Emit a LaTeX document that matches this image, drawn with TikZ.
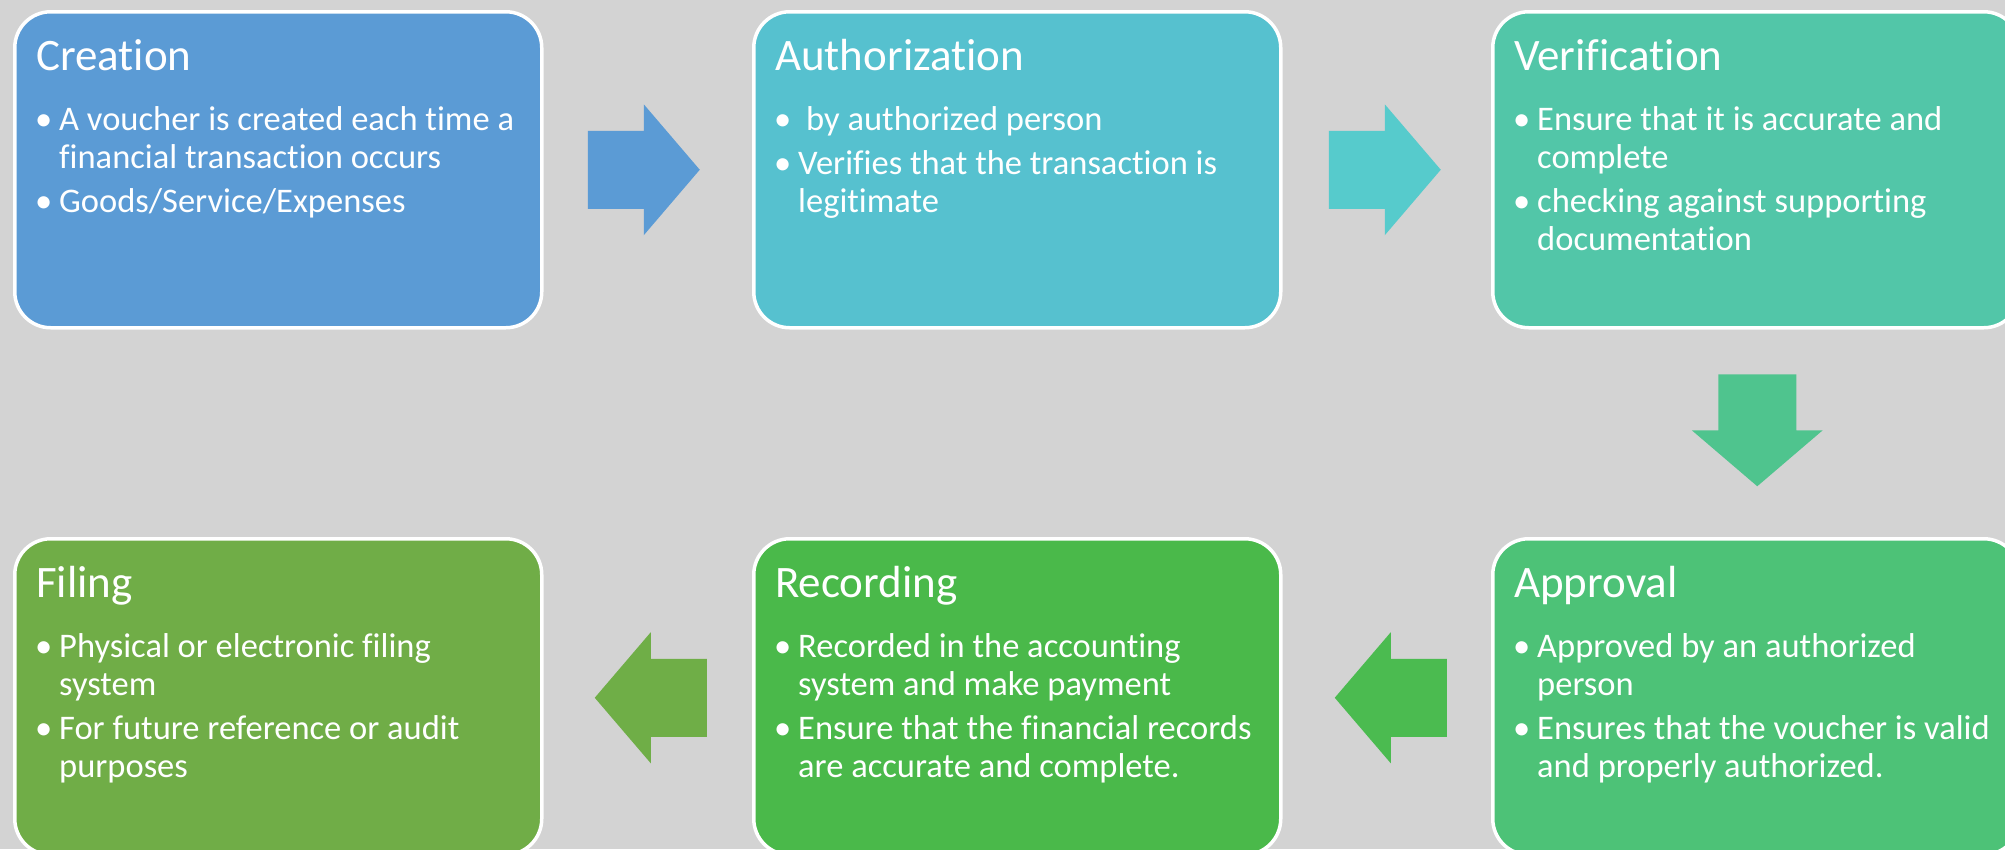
\documentclass[tikz,border=0pt]{standalone}
\usepackage{fontspec}
\setmainfont[Ligatures=NoCommon]{Carlito}
\usetikzlibrary{calc}
\definecolor{bgc}{HTML}{D3D3D3}
\definecolor{cA}{HTML}{5B9BD5}
\definecolor{cB}{HTML}{56C1CF}
\definecolor{cC}{HTML}{52C6A8}
\definecolor{cD}{HTML}{4DC277}
\definecolor{cE}{HTML}{4AB94A}
\definecolor{cF}{HTML}{70AD47}
\definecolor{aA}{HTML}{5B9BD5}
\definecolor{aB}{HTML}{56CBCC}
\definecolor{aC}{HTML}{4FC48E}
\definecolor{aD}{HTML}{4BBB50}
\definecolor{aE}{HTML}{6FAE47}
\newcommand\blockarrow[3]{%
  \begin{scope}[shift={(#1)}, rotate=#2]
    \fill[#3] (-56,-39) -- (0,-39) -- (0,-65.5) -- (56,0) -- (0,65.5) -- (0,39) -- (-56,39) -- cycle;
  \end{scope}}
\tikzset{
  stepbox/.style={draw=white, line width=3.5pt, rounded corners=36pt,
    minimum width=527pt, minimum height=316pt, inner sep=0pt, anchor=north west},
  titletext/.style={text=white, font=\fontsize{45}{52}\selectfont, inner sep=0pt, anchor=base west},
  bullettext/.style={text=white, font=\fontsize{34.5}{38}\selectfont, inner sep=0pt, anchor=base west, align=left}
}
\begin{document}
\begin{tikzpicture}[x=1pt,y=-1pt]
\useasboundingbox (0,0) rectangle (2005,849);
\clip (0,0) rectangle (2005,849);
\fill[bgc] (0,0) rectangle (2005,849);

% boxes
\node[stepbox, fill=cA] (b1) at (13,10) {};
\node[stepbox, fill=cB] (b2) at (752,10) {};
\node[stepbox, fill=cC] (b3) at (1491,10) {};
\node[stepbox, fill=cD] (b4) at (1491,537) {};
\node[stepbox, fill=cE] (b5) at (752,537) {};
\node[stepbox, fill=cF] (b6) at (13,537) {};

% titles
\node[titletext] (t1) at ($(b1.north west)+(23,60)$) {Creation};
\node[titletext] (t2) at ($(b2.north west)+(23,60)$) {Authorization};
\node[titletext] (t3) at ($(b3.north west)+(23,60)$) {Verification};
\node[titletext] (t4) at ($(b4.north west)+(23,60)$) {Approval};
\node[titletext] (t5) at ($(b5.north west)+(23,60)$) {Recording};
\node[titletext] (t6) at ($(b6.north west)+(23,60)$) {Filing};

% bullets
\node[bullettext] (x1) at ($(b1.north west)+(22,120)$) {%
\begin{tabular}[t]{@{}p{24pt}@{}l@{}}
•& A voucher is created each time a\\
 & financial transaction occurs\\[6pt]
•& Goods/Service/Expenses
\end{tabular}};
\node[bullettext] (x2) at ($(b2.north west)+(22,120)$) {%
\begin{tabular}[t]{@{}p{24pt}@{}l@{}}
•& \hspace{8pt}by authorized person\\[6pt]
•& Verifies that the transaction is\\
 & legitimate
\end{tabular}};
\node[bullettext] (x3) at ($(b3.north west)+(22,120)$) {%
\begin{tabular}[t]{@{}p{24pt}@{}l@{}}
•& Ensure that it is accurate and\\
 & complete\\[6pt]
•& checking against supporting\\
 & documentation
\end{tabular}};
\node[bullettext] (x4) at ($(b4.north west)+(22,120)$) {%
\begin{tabular}[t]{@{}p{24pt}@{}l@{}}
•& Approved by an authorized\\
 & person\\[6pt]
•& Ensures that the voucher is valid\\
 & and properly authorized.
\end{tabular}};
\node[bullettext] (x5) at ($(b5.north west)+(22,120)$) {%
\begin{tabular}[t]{@{}p{24pt}@{}l@{}}
•& Recorded in the accounting\\
 & system and make payment\\[6pt]
•& Ensure that the financial records\\
 & are accurate and complete.
\end{tabular}};
\node[bullettext] (x6) at ($(b6.north west)+(22,120)$) {%
\begin{tabular}[t]{@{}p{24pt}@{}l@{}}
•& Physical or electronic filing\\
 & system\\[6pt]
•& For future reference or audit\\
 & purposes
\end{tabular}};

% block arrows between boxes
\coordinate (m12) at ($(b1.east)!0.5!(b2.west)+(-4,0)$);
\coordinate (m23) at ($(b2.east)!0.5!(b3.west)+(-2,0)$);
\coordinate (m34) at ($(b3.south)!0.5!(b4.north)+(1,-3)$);
\coordinate (m45) at ($(b4.west)!0.5!(b5.east)+(4,1)$);
\coordinate (m56) at ($(b5.west)!0.5!(b6.east)+(3,1)$);
\blockarrow{m12}{0}{aA}
\blockarrow{m23}{0}{aB}
\blockarrow{m34}{-90}{aC}
\blockarrow{m45}{180}{aD}
\blockarrow{m56}{180}{aE}
\end{tikzpicture}
\end{document}
